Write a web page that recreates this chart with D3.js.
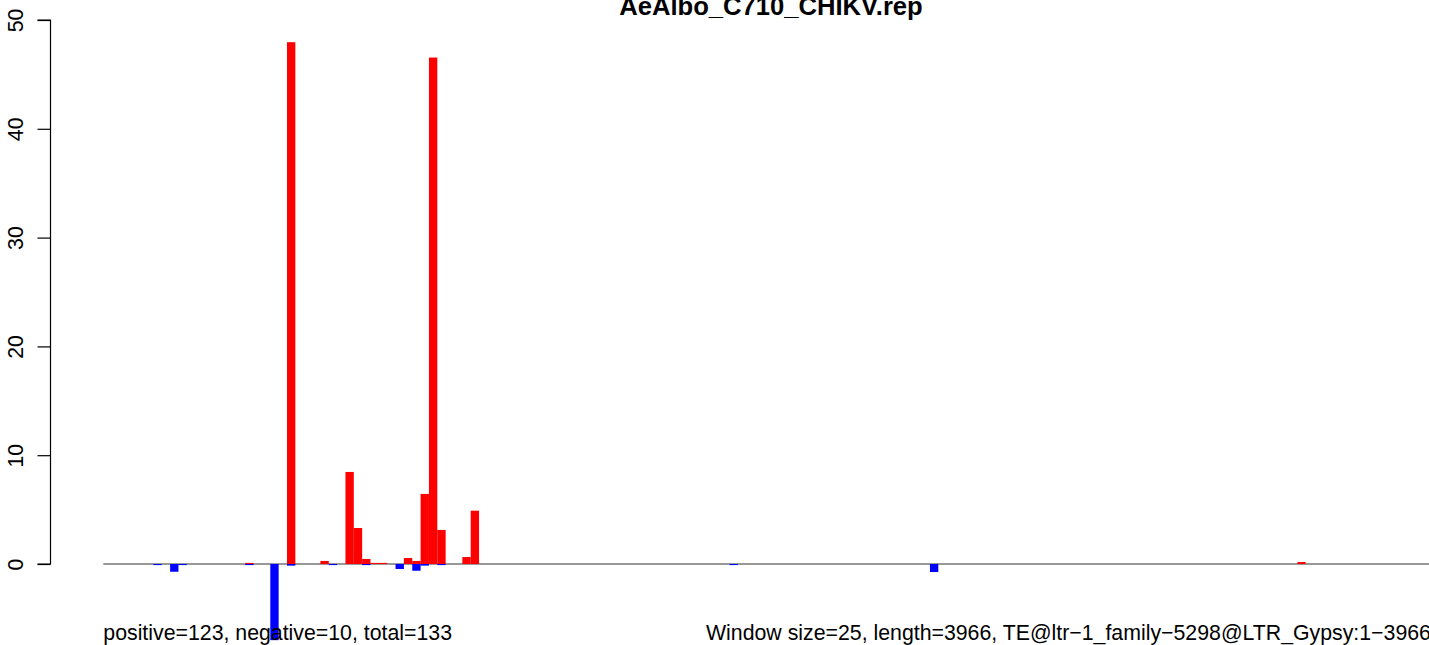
<!DOCTYPE html>
<html>
<head>
<meta charset="utf-8">
<script src="https://cdn.jsdelivr.net/npm/d3@7"></script>
<style>
  body { margin: 0; background: #fff; }
  text { font-family: "Liberation Sans", Arial, sans-serif; }
</style>
</head>
<body>
<div id="chart"></div>
<script>
// Window counts: length 3966 / window size 25
const nWindows = 159;

// Positive (red) windows and their values
const posWindows = [17, 22, 26, 29, 30, 31, 32, 33, 36, 37, 38, 39, 40, 43, 44, 143];
const posValues  = [0.1, 47.96, 0.28, 8.46, 3.31, 0.46, 0.1, 0.1, 0.55, 0.28, 6.44, 46.55, 3.13, 0.64, 4.9, 0.18];

// Negative (blue) windows and their values
const negWindows = [6, 8, 9, 17, 20, 22, 27, 31, 35, 37, 38, 40, 75, 99];
const negValues  = [-0.1, -0.71, -0.1, -0.1, -7.0, -0.15, -0.1, -0.1, -0.46, -0.62, -0.15, -0.1, -0.1, -0.74];

const yTicks = [0, 10, 20, 30, 40, 50];

const title = "AeAlbo_C710_CHIKV.rep";
const leftNote = "positive=123, negative=10, total=133";
const rightNote = "Window size=25, length=3966, TE@ltr\u22121_family\u22125298@LTR_Gypsy:1\u22123966";

const W = 1429, H = 645;

const svg = d3.select("#chart")
    .append("svg")
    .attr("width", W)
    .attr("height", H);

const x = d3.scaleBand()
    .domain(d3.range(nWindows))
    .range([103.3, 103.3 + nWindows * 8.35])
    .padding(0);

const y = d3.scaleLinear()
    .domain([0, 50])
    .range([564, 20]);

const pos = posWindows.map((w, i) => ({ w, v: posValues[i] }));
const neg = negWindows.map((w, i) => ({ w, v: negValues[i] }));

// zero line (drawn under the bars)
svg.append("line")
    .attr("x1", x.range()[0])
    .attr("x2", W)
    .attr("y1", y(0))
    .attr("y2", y(0))
    .attr("stroke", "#999")
    .attr("stroke-width", 2);

// bars
svg.append("g").selectAll("rect")
    .data(pos)
    .enter().append("rect")
    .attr("x", d => x(d.w))
    .attr("y", d => y(d.v))
    .attr("width", x.bandwidth())
    .attr("height", d => y(0) - y(d.v))
    .attr("fill", "#ff0000");

svg.append("g").selectAll("rect")
    .data(neg)
    .enter().append("rect")
    .attr("x", d => x(d.w))
    .attr("y", y(0))
    .attr("width", x.bandwidth())
    .attr("height", d => y(d.v) - y(0))
    .attr("fill", "#0000ff");

// y axis, R style
const yAxis = svg.append("g")
    .attr("transform", "translate(50.5,0)")
    .call(d3.axisLeft(y).tickValues(yTicks).tickSize(13).tickFormat(d3.format("d")));
yAxis.select(".domain")
    .attr("d", `M-13,${y(0)}H0V${y(50)}H-13`)
    .attr("stroke", "#000")
    .attr("stroke-width", 1.2)
    .attr("fill", "none");
yAxis.selectAll(".tick line").attr("stroke", "#000").attr("stroke-width", 1.2);
yAxis.selectAll(".tick text")
    .attr("x", 0)
    .attr("y", 0)
    .attr("dy", null)
    .attr("transform", "translate(-27.5,0) rotate(-90)")
    .attr("text-anchor", "middle")
    .style("font-size", "21.3px")
    .style("font-family", "'Liberation Sans', Arial, sans-serif")
    .attr("fill", "#000");

// title
svg.append("text")
    .attr("x", 771)
    .attr("y", 15)
    .attr("text-anchor", "middle")
    .style("font-size", "25.6px")
    .style("font-weight", "bold")
    .text(title);

// footer notes
svg.append("text")
    .attr("x", 103.3)
    .attr("y", 640)
    .style("font-size", "21.3px")
    .text(leftNote);

svg.append("text")
    .attr("x", x.range()[1])
    .attr("y", 640)
    .attr("text-anchor", "end")
    .style("font-size", "21.3px")
    .text(rightNote);
</script>
</body>
</html>
